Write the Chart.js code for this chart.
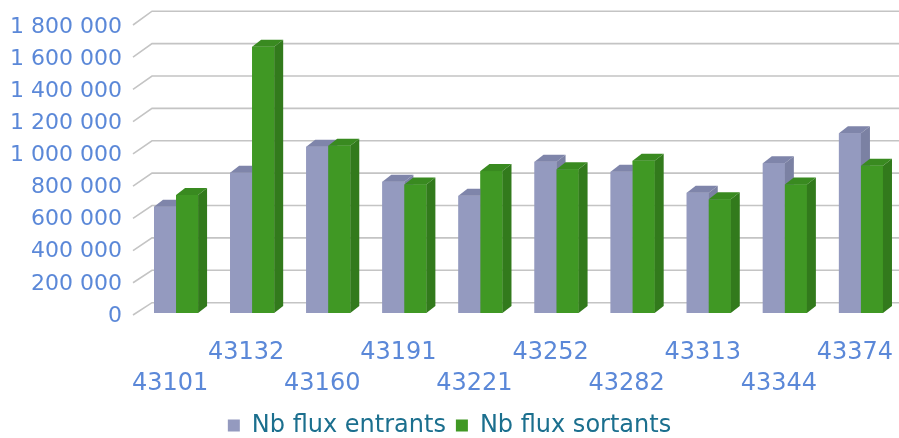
<!DOCTYPE html>
<html>
<head>
<meta charset="utf-8">
<script src="https://cdn.jsdelivr.net/npm/chart.js@4.4.1/dist/chart.umd.min.js"></script>
<style>
  html, body { margin: 0; padding: 0; background: #ffffff; }
  #wrap { width: 899px; height: 438px; position: relative; }
</style>
</head>
<body>
<div id="wrap"><canvas id="c" width="899" height="438"></canvas></div>
<script>
// ---- data ----
const categories = ['43101', '43132', '43160', '43191', '43221', '43252', '43282', '43313', '43344', '43374'];
const seriesNames = ['Nb flux entrants', 'Nb flux sortants'];
const entrants = [662000, 874000, 1036000, 818000, 730000, 942000, 880000, 749000, 932000, 1119000];
const sortants = [735000, 1658000, 1042000, 801000, 884000, 895000, 948000, 708000, 801000, 917000];
const yTickLabels = ['0', '200 000', '400 000', '600 000', '800 000', '1 000 000', '1 200 000', '1 400 000', '1 600 000', '1 800 000'];
const yStep = 200000;
const yMax = 1800000;

// staggered two-row category labels
const xLabels = categories.map((c, i) => (i % 2 === 1 ? [c, ''] : ['', c]));

const FRONT = ['#949ABF', '#409824'];
const TOP = ['#7F85AA', '#398A20'];
const SIDE = ['#7B81A3', '#327A1C'];
const DX = 9, DY = 7;

const gridPlugin = {
  id: 'grid3d',
  beforeDatasetsDraw(chart) {
    const ctx = chart.ctx;
    const y = chart.scales.y;
    const area = chart.chartArea;
    ctx.save();
    ctx.strokeStyle = '#C4C4C4';
    ctx.lineWidth = 1.6;
    for (let v = 0; v <= yMax; v += yStep) {
      const py = y.getPixelForValue(v);
      const frac = (area.bottom - py) / (area.bottom - area.top);
      const yf = py + 2 - frac * 1;
      const yb = py - 10.3 - frac * 2.5;
      ctx.beginPath();
      ctx.moveTo(area.left - 5, yf);
      ctx.lineTo(area.left + 14, yb);
      ctx.lineTo(chart.width, yb);
      ctx.stroke();
    }
    ctx.restore();
  },
  afterDatasetsDraw(chart) {
    const ctx = chart.ctx;
    const metas = [chart.getDatasetMeta(0), chart.getDatasetMeta(1)];
    const n = metas[0].data.length;
    ctx.save();
    for (let i = 0; i < n; i++) {
      for (let di = 0; di < metas.length; di++) {
        const bar = metas[di].data[i];
        const p = bar.getProps(['x', 'y', 'base', 'width'], true);
        const x0 = p.x - p.width / 2, x1 = p.x + p.width / 2;
        const yt = p.y, yb = p.base;
        // front face
        ctx.fillStyle = FRONT[di];
        ctx.fillRect(x0, yt, x1 - x0, yb - yt);
        // top face
        ctx.fillStyle = TOP[di];
        ctx.beginPath();
        ctx.moveTo(x0, yt);
        ctx.lineTo(x1, yt);
        ctx.lineTo(x1 + DX, yt - DY);
        ctx.lineTo(x0 + DX, yt - DY);
        ctx.closePath();
        ctx.fill();
        // side face
        ctx.fillStyle = SIDE[di];
        ctx.beginPath();
        ctx.moveTo(x1, yt);
        ctx.lineTo(x1 + DX, yt - DY);
        ctx.lineTo(x1 + DX, yb - DY);
        ctx.lineTo(x1, yb);
        ctx.closePath();
        ctx.fill();
      }
    }
    ctx.restore();
  }
};

const legendShift = {
  id: 'legendShift',
  afterLayout(chart) {
    const l = chart.legend;
    if (l) { l.top += 9.5; l.bottom += 9.5; }
  }
};

new Chart(document.getElementById('c'), {
  type: 'bar',
  data: {
    labels: xLabels,
    datasets: [
      { label: seriesNames[0], data: entrants, backgroundColor: FRONT[0], borderWidth: 0 },
      { label: seriesNames[1], data: sortants, backgroundColor: FRONT[1], borderWidth: 0 }
    ]
  },
  options: {
    responsive: false,
    animation: false,
    events: [],
    layout: { padding: { top: 24, left: 0, right: 0, bottom: 0 } },
    datasets: { bar: { categoryPercentage: 0.579, barPercentage: 1.0 } },
    scales: {
      x: {
        grid: { display: false, drawTicks: false },
        border: { display: false },
        afterFit(scale) { scale.height = 81; scale.paddingLeft = 0; scale.paddingRight = 0; },
        ticks: {
          autoSkip: false,
          maxRotation: 0,
          minRotation: 0,
          padding: 25,
          labelOffset: -6,
          color: '#5B88D8',
          font: { family: 'DejaVu Sans', size: 24, lineHeight: 1.27 }
        }
      },
      y: {
        min: 0,
        max: yMax,
        grid: { display: false, drawTicks: false },
        border: { display: false },
        afterFit(scale) { scale.width = 138; scale.paddingTop = 0; scale.paddingBottom = 0; },
        ticks: {
          stepSize: yStep,
          padding: 16,
          labelOffset: 3,
          color: '#5B88D8',
          font: { family: 'DejaVu Sans', size: 22 },
          callback: (v) => yTickLabels[Math.round(v / yStep)]
        }
      }
    },
    plugins: {
      tooltip: { enabled: false },
      legend: {
        position: 'bottom',
        labels: {
          boxWidth: 12,
          boxHeight: 12,
          padding: 10,
          color: '#1B6F8E',
          font: { family: 'DejaVu Sans', size: 24 }
        }
      }
    }
  },
  plugins: [gridPlugin, legendShift]
});
</script>
</body>
</html>
